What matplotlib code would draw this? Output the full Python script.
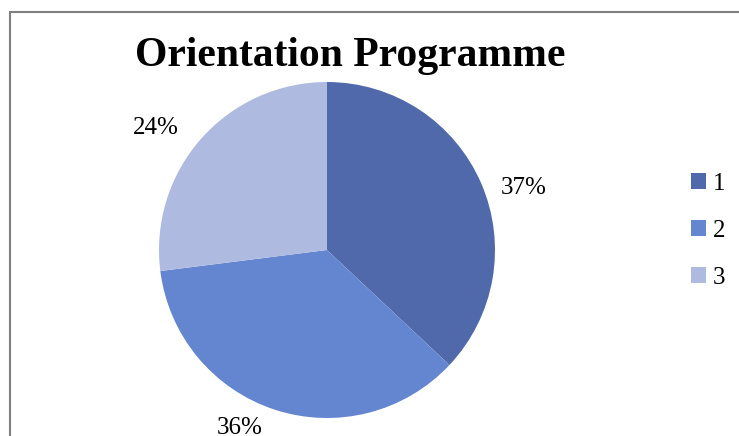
import matplotlib.pyplot as plt
import numpy as np
from matplotlib.patches import Rectangle

categories = ['1', '2', '3']
values = [37, 36, 27]
pct_labels = ['37%', '36%', '24%']
colors = ['#5069AA', '#6486D0', '#AEBAE0']

plt.rcParams['font.family'] = ['Liberation Serif', 'DejaVu Serif']

W, H = 739, 436
fig = plt.figure(figsize=(W / 100, H / 100), dpi=100)

# outer chart frame (runs off the right and bottom edges)
fig.patches.append(Rectangle((10 / W, -0.1), 1.0, (H - 12) / H + 0.1,
                             transform=fig.transFigure, fill=False,
                             edgecolor='#808080', linewidth=1.5))

cx, cy, r = 327, 250, 168
ax = fig.add_axes([(cx - r) / W, (H - cy - r) / H, 2 * r / W, 2 * r / H])
wedges, _ = ax.pie(values, colors=colors, startangle=90, counterclock=False,
                   wedgeprops=dict(linewidth=0))
ax.set_xlim(-1, 1)
ax.set_ylim(-1, 1)
ax.set_aspect('equal')
ax.axis('off')

# data labels placed outside the slices, Excel style
angle_shift = [-6, -8, 6]
dist = [1.23, 1.18, 1.25]
for w, lab, da, d in zip(wedges, pct_labels, angle_shift, dist):
    a = np.deg2rad((w.theta1 + w.theta2) / 2 + da)
    ax.text(d * np.cos(a), d * np.sin(a), lab, ha='center', va='center',
            fontsize=18, clip_on=False)

fig.text(350 / W, 1 - 56 / H, 'Orientation Programme', ha='center', va='center',
         fontsize=30, fontweight='bold')

leg = fig.legend(wedges, categories, loc='center left',
                 bbox_to_anchor=(668 / W, 1 - 231 / H), frameon=False,
                 fontsize=18, handlelength=0.6, handleheight=0.6,
                 handletextpad=0.3, labelspacing=1.0)

fig.savefig('out.png', dpi=100)
